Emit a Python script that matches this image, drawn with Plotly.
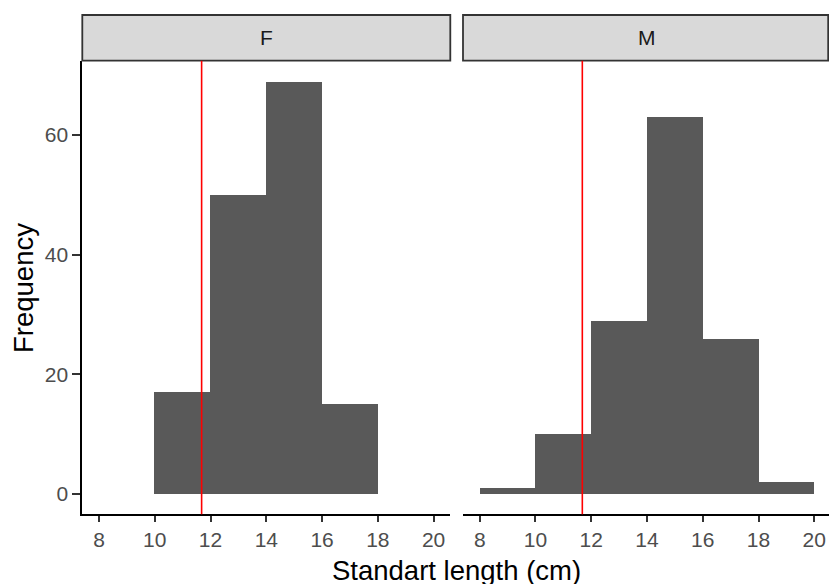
import plotly.graph_objects as go

# ---- data ----
bin_centers = [9, 11, 13, 15, 17, 19]
bin_width = 2
counts_F = [0, 17, 50, 69, 15, 0]
counts_M = [1, 10, 29, 63, 26, 2]
panels = ["F", "M"]
ref_length = 11.68
x_ticks = [8, 10, 12, 14, 16, 18, 20]
y_ticks = [0, 20, 40, 60]

W, H = 829, 584
FONT = "Liberation Sans, Arial, sans-serif"

def fx(px):
    return px / W

def fy(py):
    return (H - py) / H

# panel geometry in screen pixels
panel_x = [(82.3, 450.3), (463.0, 831.0)]
panel_top, panel_bottom = 60.7, 514.3
strip_top = 15.0

fig = go.Figure()
for i, counts in enumerate([counts_F, counts_M]):
    xa = "x" if i == 0 else "x2"
    ya = "y" if i == 0 else "y2"
    fig.add_trace(go.Bar(
        x=bin_centers, y=counts, width=bin_width,
        marker=dict(color="#595959", line=dict(width=0)),
        xaxis=xa, yaxis=ya, showlegend=False,
    ))

TICKFONT = dict(family=FONT, size=21, color="#4D4D4D")
axis_common = dict(
    range=[7.4, 20.6], tickvals=x_ticks, ticks="outside", ticklen=6,
    tickwidth=1.5, tickcolor="#333333", showline=True, linecolor="#000000",
    linewidth=1.8, showgrid=False, zeroline=False, tickfont=TICKFONT,
)

# the right panel runs slightly past the page edge; keep its scale
m_left, m_right = panel_x[1]
m_span = 20.6 - 7.4
m_range_right = 7.4 + m_span * (W - m_left) / (m_right - m_left)
axis_m = dict(axis_common)
axis_m["range"] = [7.4, m_range_right]

layout = dict(
    width=W, height=H, margin=dict(l=0, r=0, t=0, b=0),
    paper_bgcolor="white", plot_bgcolor="white", bargap=0,
    xaxis=dict(domain=[fx(panel_x[0][0]), fx(panel_x[0][1])], anchor="y", **axis_common),
    xaxis2=dict(domain=[fx(m_left), 1.0], anchor="y2", **axis_m),
    yaxis=dict(domain=[fy(panel_bottom), fy(panel_top)], range=[-3.45, 72.45],
               tickvals=y_ticks, ticks="outside", ticklen=8, tickwidth=1.5,
               tickcolor="#333333", showline=True, linecolor="#000000", linewidth=1.8,
               showgrid=False, zeroline=False, tickfont=TICKFONT),
    yaxis2=dict(domain=[fy(panel_bottom), fy(panel_top)], range=[-3.45, 72.45],
                anchor="x2", matches="y", showticklabels=False, ticks="",
                showline=False, showgrid=False, zeroline=False),
)
fig.update_layout(**layout)

shapes = []
annotations = []
for i, name in enumerate(panels):
    x0, x1 = panel_x[i]
    x1c = min(x1, W - 0.8)
    shapes.append(dict(type="rect", xref="paper", yref="paper",
                       x0=fx(x0), x1=fx(x1c), y0=fy(panel_top), y1=fy(strip_top),
                       fillcolor="#D9D9D9", line=dict(color="#333333", width=1.8),
                       layer="above"))
    annotations.append(dict(text=name, xref="paper", yref="paper",
                            x=fx((x0 + x1) / 2), y=fy((panel_top + strip_top) / 2),
                            showarrow=False, xanchor="center", yanchor="middle",
                            font=dict(family=FONT, size=21, color="#1A1A1A")))
    xa = "x" if i == 0 else "x2"
    ya = "y domain" if i == 0 else "y2 domain"
    shapes.append(dict(type="line", xref=xa, yref=ya, x0=ref_length, x1=ref_length,
                       y0=0, y1=1, line=dict(color="#FF0000", width=1.6), layer="above"))

annotations.append(dict(text="Standart length (cm)", xref="paper", yref="paper",
                        x=fx(457), y=fy(570), showarrow=False, xanchor="center",
                        yanchor="middle", font=dict(family=FONT, size=27.5, color="#000000")))
annotations.append(dict(text="Frequency", xref="paper", yref="paper",
                        x=fx(23), y=fy(288), showarrow=False, xanchor="center",
                        yanchor="middle", textangle=-90,
                        font=dict(family=FONT, size=27.5, color="#000000")))

fig.update_layout(shapes=shapes, annotations=annotations)
fig.write_html(
    "out.html",
    config={"displayModeBar": False},
    post_script="document.body.style.margin='0';document.body.style.overflow='hidden';",
)
